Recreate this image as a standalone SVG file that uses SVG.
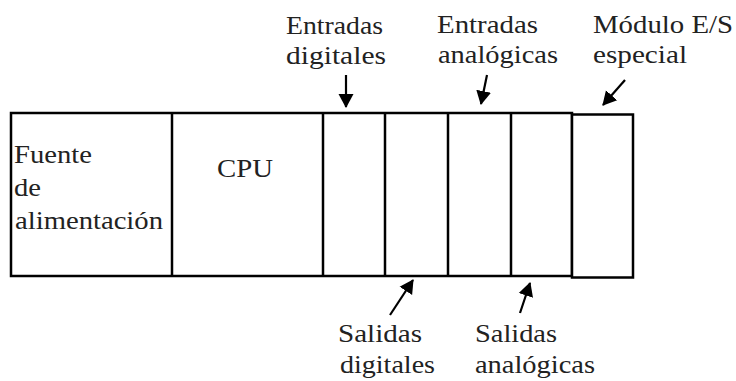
<svg xmlns="http://www.w3.org/2000/svg" width="736" height="381" viewBox="0 0 736 381">
<style>
.box{fill:#fff;stroke:#000;stroke-width:2.5}
.div{stroke:#000;stroke-width:2.5}
text{font-family:'Liberation Serif','Times New Roman',serif;font-size:25px;fill:#222}
.c{stroke:#000;stroke-width:2.2;fill:none}
</style>
<defs>
<marker id="ah" markerWidth="16" markerHeight="16" refX="13" refY="8" orient="auto" markerUnits="userSpaceOnUse">
<path d="M0,0.5 L14,8 L0,15.5 Z" fill="#000"/>
</marker>
</defs>
<g id="rack">
<rect class="box" x="11" y="113" width="561" height="163"/>
</g>
<g id="fuente">
<text x="14" y="163" textLength="78" lengthAdjust="spacingAndGlyphs">Fuente</text>
<text x="14" y="196" textLength="27" lengthAdjust="spacingAndGlyphs">de</text>
<text x="15" y="229" textLength="148" lengthAdjust="spacingAndGlyphs">alimentación</text>
</g>
<g id="cpu">
<line class="div" x1="172" y1="113" x2="172" y2="276"/>
<text x="217" y="177" textLength="56" lengthAdjust="spacingAndGlyphs">CPU</text>
</g>
<g id="entradas-digitales">
<line class="div" x1="323" y1="113" x2="323" y2="276"/>
</g>
<g id="salidas-digitales">
<line class="div" x1="385" y1="113" x2="385" y2="276"/>
</g>
<g id="entradas-analogicas">
<line class="div" x1="448" y1="113" x2="448" y2="276"/>
</g>
<g id="salidas-analogicas">
<line class="div" x1="511" y1="113" x2="511" y2="276"/>
</g>
<g id="modulo-es">
<rect class="box" x="572" y="114.5" width="61" height="163"/>
</g>
<g id="labels">
<text x="286" y="34" textLength="97" lengthAdjust="spacingAndGlyphs">Entradas</text>
<text x="286" y="64" textLength="100" lengthAdjust="spacingAndGlyphs">digitales</text>
<text x="437" y="33" textLength="101" lengthAdjust="spacingAndGlyphs">Entradas</text>
<text x="438" y="63" textLength="120" lengthAdjust="spacingAndGlyphs">analógicas</text>
<text x="593" y="33" textLength="140" lengthAdjust="spacingAndGlyphs">Módulo E/S</text>
<text x="593" y="63" textLength="94" lengthAdjust="spacingAndGlyphs">especial</text>
<text x="338" y="342" textLength="84" lengthAdjust="spacingAndGlyphs">Salidas</text>
<text x="340" y="373" textLength="95" lengthAdjust="spacingAndGlyphs">digitales</text>
<text x="475" y="342" textLength="82" lengthAdjust="spacingAndGlyphs">Salidas</text>
<text x="475" y="373" textLength="120" lengthAdjust="spacingAndGlyphs">analógicas</text>
</g>
<g id="connectors">
<line class="c" x1="346" y1="75" x2="346" y2="107" marker-end="url(#ah)"/>
<line class="c" x1="487" y1="75" x2="481" y2="104" marker-end="url(#ah)"/>
<line class="c" x1="625" y1="80" x2="603" y2="105" marker-end="url(#ah)"/>
<line class="c" x1="390" y1="315" x2="413" y2="280" marker-end="url(#ah)"/>
<line class="c" x1="520" y1="313" x2="530" y2="283" marker-end="url(#ah)"/>
</g>
</svg>
